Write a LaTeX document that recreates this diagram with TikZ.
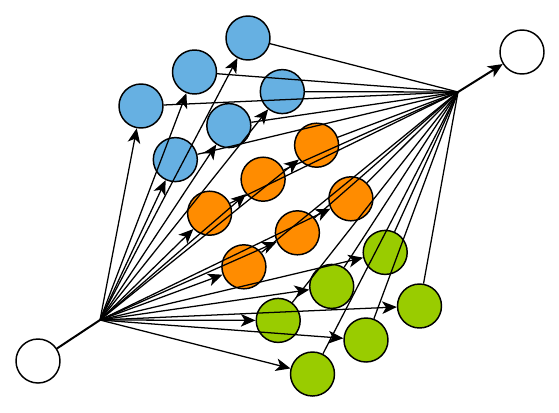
\documentclass[tikz,border=0pt]{standalone}
\usepackage{xcolor}
\usepackage{tikz}
\usetikzlibrary{arrows.meta}
\usetikzlibrary{calc}

\definecolor{cblue}{HTML}{66B0E2}
\definecolor{corange}{HTML}{FF8C00}
\definecolor{cgreen}{HTML}{99CC00}

\begin{document}
\begin{tikzpicture}[x = 0.75pt, y = -0.75pt]
		\useasboundingbox (0, 0) rectangle (559, 412);

		\begin{scope}[every node/.style={circle, draw, line width = 1.1pt, minimum size = 33pt, inner sep = 0pt}]
		\node (0) at (38, 361) {};
		\node (1) at (522, 52) {};

		\foreach \r/\c in {0/cblue, 1/cblue, 2/corange, 3/corange, 4/cgreen, 5/cgreen}
		\foreach \k in {0, 1, 2}
		\node (\r-\k) [fill = \c] at (141 + 34.3*\r + 53.5*\k, 106 + 53.6*\r - 34*\k) {};
		\end{scope}

		\coordinate (2) at (100, 320);
		\coordinate (3) at (458, 92);

		\begin{scope}[>={Stealth[length = 11pt, width = 9.5pt, inset = 3pt]},
		line width = 0.95pt]
		\draw [line width = 1.5pt] (0) -- (2);
		\draw [->, line width = 1.5pt] (3) -- (1);

		\foreach \r in {0, ..., 5}
		\foreach \k in {0, 1, 2}
		{
		\draw [->] (2) -- (\r-\k);
		\draw (\r-\k) -- (3);
		}
		\end{scope}

\end{tikzpicture}
\end{document}
